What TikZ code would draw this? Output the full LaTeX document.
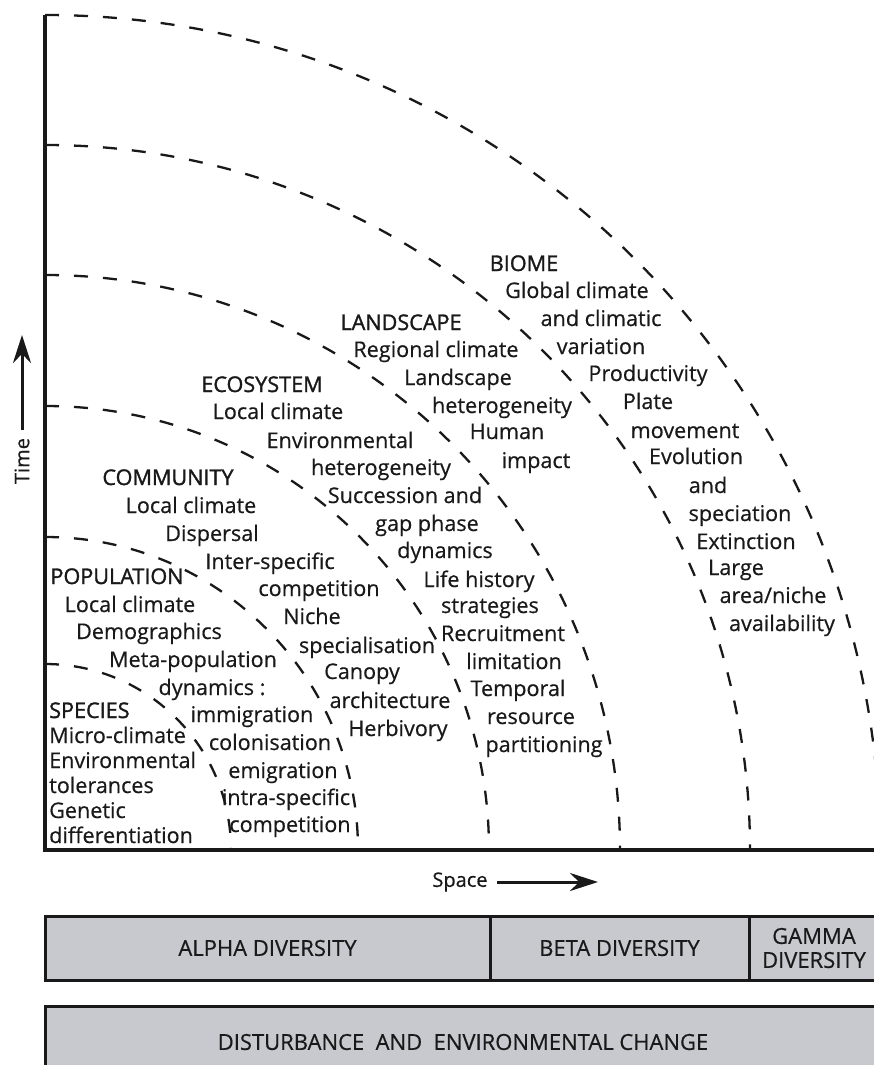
\documentclass[tikz,border=0pt]{standalone}
\usepackage{fontspec}
\setmainfont{Open Sans}
\newfontfamily\bodyfont{Open Sans}[FakeBold=0.5]
\newfontfamily\headfont{Open Sans}[FakeBold=1.4]
\usepackage{xcolor}
\usepackage{tikz}
\usetikzlibrary{arrows.meta}
\definecolor{boxgray}{RGB}{200, 201, 206}
\definecolor{ink}{RGB}{25, 25, 25}

\begin{document}
\begin{tikzpicture}[x=1pt, y=-1pt,
  txt/.style={anchor=base, inner sep=0pt, text=ink, font=\fontsize{21.6}{24}\selectfont\bodyfont},
  head/.style={txt, font=\fontsize{21.6}{24}\selectfont\headfont},
  lefttxt/.style={txt, anchor=base west},
  arcline/.style={ink, line width=2.3pt, dash pattern=on 14pt off 15pt},
  axisline/.style={ink, line width=3pt, -{Stealth[length=28pt, width=18pt]}},
  axlabel/.style={inner sep=0pt, text=ink, font=\fontsize{20}{22}\selectfont\bodyfont},
  bar/.style={draw=ink, fill=boxgray, line width=3pt, inner sep=0pt, text=ink,
    align=center, font=\fontsize{22}{24}\selectfont\bodyfont, minimum height=64pt}]
\useasboundingbox (0,0) rectangle (873,1065);
% Axes
\draw[ink, line width=3.5pt] (45,15) |- (880,850);
% Scale boundaries
\foreach \r in {186,313,444,575,705,835}
    \draw[arcline] (45,850-\r) arc[start angle=90, end angle=0, radius=\r pt];

% Time and space
\node[axlabel, rotate=90] (time) at (22,461) {Time};
\coordinate (timeend) at (22,335);
\draw[axisline] ([yshift=8pt]time.east) -- (timeend);
\node[axlabel] (space) at (460,882) {Space};
\coordinate (spaceend) at (598,882);
\draw[axisline] ([xshift=9pt]space.east) -- (spaceend);

% Species
\node[lefttxt, font=\fontsize{21.6}{24}\selectfont\headfont] (spc1) at (49,718) {SPECIES};
\node[lefttxt] (spc2) at (49,743) {Micro-climate};
\node[lefttxt] (spc3) at (49,768) {Environmental};
\node[lefttxt] (spc4) at (49,793) {tolerances};
\node[lefttxt] (spc5) at (49,818) {Genetic};
\node[lefttxt] (spc6) at (49,843) {differentiation};

% Population
\node[head] (pop1) at (117,584) {POPULATION};
\node[txt] (pop2) at (130,612) {Local climate};
\node[txt] (pop3) at (149,639) {Demographics};
\node[txt] (pop4) at (193,667) {Meta-population};
\node[txt] (pop5) at (212,695) {dynamics :};
\node[txt] (pop6) at (252,722) {immigration};
\node[txt] (pop7) at (270,750) {colonisation};
\node[txt] (pop8) at (283,778) {emigration};
\node[txt] (pop9) at (286,805) {intra-specific};
\node[txt] (pop10) at (290,832) {competition};

% Community
\node[head] (com1) at (168,485) {COMMUNITY};
\node[txt] (com2) at (191,513) {Local climate};
\node[txt] (com3) at (212,541) {Dispersal};
\node[txt] (com4) at (270,569) {Inter-specific};
\node[txt] (com5) at (319,596) {competition};
\node[txt] (com6) at (312,624) {Niche};
\node[txt] (com7) at (367,653) {specialisation};
\node[txt] (com8) at (362,679) {Canopy};
\node[txt] (com9) at (390,708) {architecture};
\node[txt] (com10) at (398,736) {Herbivory};

% Ecosystem
\node[head] (eco1) at (262,392) {ECOSYSTEM};
\node[txt] (eco2) at (278,419) {Local climate};
\node[txt] (eco3) at (340,448) {Environmental};
\node[txt] (eco4) at (381,475) {heterogeneity};
\node[txt] (eco5) at (405,503) {Succession and};
\node[txt] (eco6) at (427,531) {gap phase};
\node[txt] (eco7) at (445,558) {dynamics};
\node[txt] (eco8) at (479,587) {Life history};
\node[txt] (eco9) at (490,613) {strategies};
\node[txt] (eco10) at (503,641) {Recruitment};
\node[txt] (eco11) at (514,669) {limitation};
\node[txt] (eco12) at (518,696) {Temporal};
\node[txt] (eco13) at (531,724) {resource};
\node[txt] (eco14) at (544,752) {partitioning};

% Landscape
\node[head] (lan1) at (401,330) {LANDSCAPE};
\node[txt] (lan2) at (436,357) {Regional climate};
\node[txt] (lan3) at (458,385) {Landscape};
\node[txt] (lan4) at (502,413) {heterogeneity};
\node[txt] (lan5) at (507,439) {Human};
\node[txt] (lan6) at (536,468) {impact};

% Biome
\node[head] (bio1) at (524,271) {BIOME};
\node[txt] (bio2) at (577,298) {Global climate};
\node[txt] (bio3) at (601,326) {and climatic};
\node[txt] (bio4) at (601,354) {variation};
\node[txt] (bio5) at (648,381) {Productivity};
\node[txt] (bio6) at (648,409) {Plate};
\node[txt] (bio7) at (685,438) {movement};
\node[txt] (bio8) at (696,464) {Evolution};
\node[txt] (bio9) at (708,493) {and};
\node[txt] (bio10) at (740,521) {speciation};
\node[txt] (bio11) at (746,549) {Extinction};
\node[txt] (bio12) at (736,575) {Large};
\node[txt] (bio13) at (773,603) {area/niche};
\node[txt] (bio14) at (782,631) {availability};

% Diversity bars
\node[bar, minimum width=445pt] (alpha) at (267.5,948) {ALPHA DIVERSITY};
\node[bar, minimum width=259pt] (beta) at (619.5,948) {BETA DIVERSITY};
\node[bar, minimum width=130pt] (gamma) at (814,948) {GAMMA\\DIVERSITY};
\node[bar, minimum width=836pt, minimum height=72pt] (change) at (463,1042) {DISTURBANCE~~AND~~ENVIRONMENTAL CHANGE};
\end{tikzpicture}
\end{document}
